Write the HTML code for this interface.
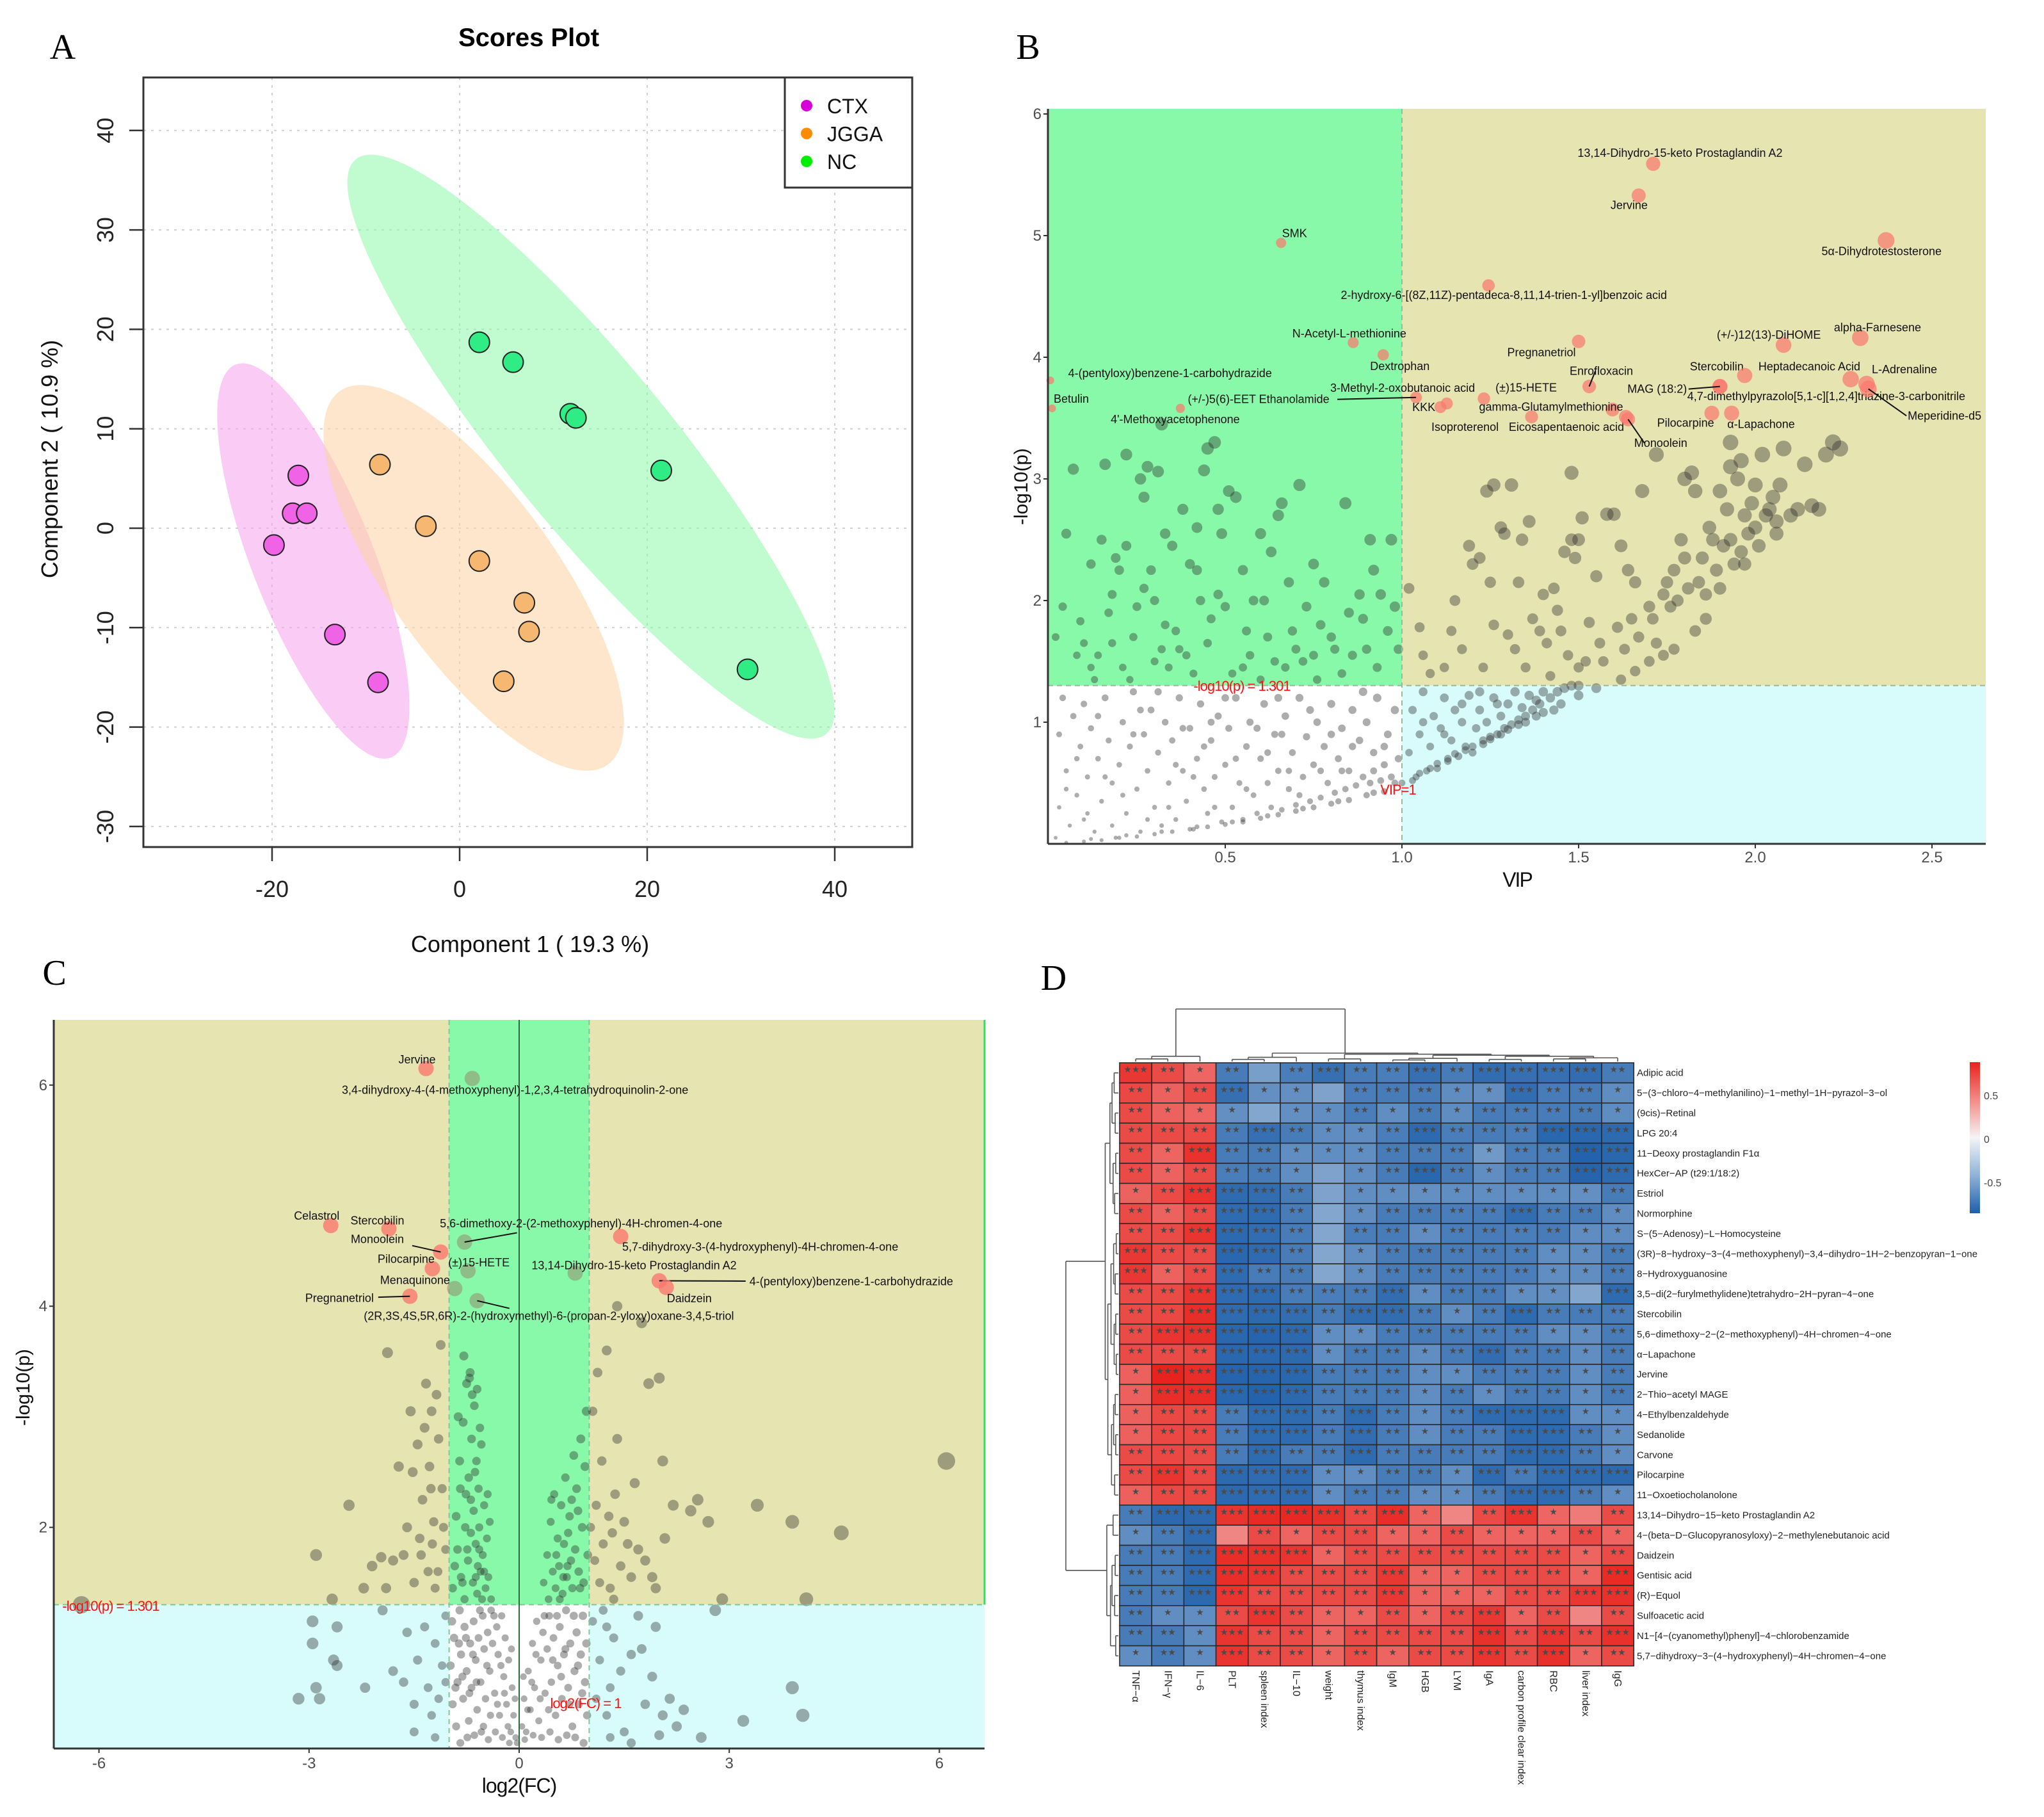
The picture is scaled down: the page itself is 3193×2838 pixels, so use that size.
<!DOCTYPE html>
<html><head><meta charset="utf-8">
<style>
html,body{margin:0;padding:0;background:#fff;}
svg{display:block;font-family:"Liberation Sans",sans-serif;}
</style></head>
<body>
<svg id="fig" xmlns="http://www.w3.org/2000/svg" width="3193" height="2838" viewBox="0 0 3193 2838">
<rect x="0" y="0" width="3193" height="2838" fill="#fff"/>
</svg>
<script>
// ---------- Panel A data ----------
const ctxX = [-17.2, -17.8, -16.3, -19.8, -13.3, -8.7];
const ctxY = [5.3, 1.5, 1.5, -1.7, -10.7, -15.5];
const jggaX = [-8.5, -3.6, 2.1, 6.9, 7.4, 4.7];
const jggaY = [6.4, 0.2, -3.3, -7.5, -10.4, -15.4];
const ncX = [2.1, 5.7, 11.8, 12.4, 21.5, 30.7];
const ncY = [18.7, 16.7, 11.5, 11.1, 5.8, -14.2];
const ellCenterX = [-15.6, 1.5, 14.0];
const ellCenterY = [-3.3, -5.0, 8.2];
const aXTicks = [-20, 0, 20, 40];
const aYTicks = [-30, -20, -10, 0, 10, 20, 30, 40];
// ---------- Panel B data ----------
const bGreenPts = [[0.02,1.7],[0.04,1.95],[0.05,2.55],[0.07,3.08],[0.09,1.83],[0.1,1.65],[0.12,1.45],[0.13,1.35],[0.15,2.5],[0.16,3.12],[0.17,1.9],[0.18,1.65],[0.19,2.35],[0.2,2.25],[0.21,1.45],[0.22,2.45],[0.23,1.35],[0.24,1.7],[0.25,1.95],[0.26,3.0],[0.27,2.85],[0.27,2.1],[0.28,3.1],[0.29,2.25],[0.3,1.5],[0.3,2.0],[0.31,3.06],[0.32,1.6],[0.33,2.55],[0.33,1.8],[0.34,1.45],[0.36,1.75],[0.37,1.6],[0.38,2.75],[0.39,1.55],[0.4,2.3],[0.41,1.4],[0.42,2.25],[0.43,2.0],[0.44,3.07],[0.45,1.65],[0.46,1.85],[0.47,3.3],[0.48,2.05],[0.48,2.75],[0.49,2.55],[0.5,1.95],[0.51,2.9],[0.52,1.4],[0.53,2.85],[0.55,2.25],[0.56,1.75],[0.57,1.55],[0.58,2.0],[0.6,1.35],[0.61,2.0],[0.62,1.7],[0.63,2.4],[0.64,1.5],[0.65,2.7],[0.66,2.8],[0.67,1.45],[0.68,2.15],[0.69,1.75],[0.7,1.6],[0.71,2.95],[0.72,1.5],[0.73,1.95],[0.75,1.55],[0.76,1.35],[0.77,1.8],[0.78,2.15],[0.8,1.7],[0.81,1.6],[0.83,1.4],[0.84,2.8],[0.85,1.9],[0.86,1.55],[0.88,2.05],[0.89,1.85],[0.9,1.6],[0.91,2.5],[0.92,2.25],[0.93,1.45],[0.94,2.05],[0.96,1.75],[0.97,2.5],[0.98,1.95],[0.99,1.6],[0.35,2.45],[0.12,2.3],[0.14,1.55],[0.22,3.2],[0.42,2.6],[0.6,2.55],[0.75,2.3],[0.55,1.45],[0.18,2.05],[0.08,1.55],[0.45,3.25],[0.32,3.45]];
const bKhakiPts = [[1.02,2.1],[1.05,1.78],[1.06,1.55],[1.08,1.4],[1.12,1.45],[1.14,1.75],[1.15,2.0],[1.17,1.6],[1.19,2.45],[1.2,2.3],[1.22,2.35],[1.23,1.45],[1.24,2.9],[1.25,2.15],[1.26,1.8],[1.28,2.6],[1.29,2.55],[1.3,1.72],[1.31,2.95],[1.32,1.6],[1.33,2.15],[1.34,2.5],[1.35,1.45],[1.36,2.65],[1.37,1.85],[1.39,1.75],[1.4,2.05],[1.41,1.65],[1.42,1.38],[1.43,2.1],[1.44,1.92],[1.45,1.75],[1.46,2.4],[1.47,1.55],[1.48,2.5],[1.48,3.05],[1.49,2.35],[1.5,2.5],[1.5,1.45],[1.51,2.68],[1.52,1.5],[1.53,1.82],[1.55,2.2],[1.56,1.65],[1.57,1.5],[1.58,2.71],[1.6,2.71],[1.61,1.78],[1.62,2.45],[1.63,1.6],[1.64,2.25],[1.65,1.85],[1.66,2.15],[1.67,1.7],[1.68,2.9],[1.7,1.95],[1.71,1.85],[1.72,1.65],[1.72,3.2],[1.74,2.05],[1.75,2.15],[1.76,1.95],[1.77,2.25],[1.78,2.0],[1.79,2.5],[1.8,2.35],[1.8,3.0],[1.81,2.1],[1.82,3.05],[1.83,2.9],[1.84,2.15],[1.85,2.35],[1.86,2.05],[1.87,2.6],[1.88,2.5],[1.89,2.25],[1.9,2.9],[1.91,2.45],[1.92,2.75],[1.93,3.1],[1.93,2.5],[1.94,2.3],[1.95,3.0],[1.96,2.4],[1.97,2.7],[1.98,2.55],[1.99,2.8],[2.0,2.95],[2.0,2.6],[2.01,2.45],[2.02,3.2],[2.03,2.7],[2.04,2.75],[2.05,2.85],[2.06,2.65],[2.07,2.95],[2.08,3.25],[2.1,2.7],[2.12,2.75],[2.14,3.12],[2.16,2.78],[2.18,2.75],[2.2,3.2],[2.22,3.3],[2.24,3.25],[1.93,3.3],[1.96,3.15],[2.06,2.55],[1.97,2.3],[1.9,2.1],[1.86,1.85],[1.83,1.75],[1.77,1.6],[1.74,1.55],[1.7,1.5],[1.66,1.42],[1.62,1.35],[1.26,2.95]];
const bLowLeftPts = [[0.02,0.05],[0.03,0.3],[0.03,0.9],[0.04,1.2],[0.05,0.6],[0.06,0.15],[0.07,1.05],[0.08,0.4],[0.09,0.8],[0.1,0.2],[0.1,1.15],[0.11,0.55],[0.12,0.95],[0.13,0.1],[0.14,0.7],[0.15,0.35],[0.16,1.2],[0.17,0.85],[0.18,0.5],[0.19,0.05],[0.2,0.65],[0.21,1.0],[0.22,0.25],[0.23,0.8],[0.24,1.25],[0.25,0.45],[0.26,0.1],[0.27,0.9],[0.28,0.6],[0.29,1.1],[0.3,0.3],[0.31,0.75],[0.32,0.15],[0.33,1.0],[0.34,0.5],[0.35,0.85],[0.36,0.2],[0.37,1.2],[0.38,0.6],[0.39,0.35],[0.4,0.95],[0.41,0.12],[0.42,0.7],[0.43,1.15],[0.44,0.45],[0.45,0.25],[0.46,0.85],[0.47,0.55],[0.48,1.05],[0.49,0.18],[0.5,0.65],[0.51,0.95],[0.52,0.3],[0.53,1.2],[0.54,0.5],[0.55,0.2],[0.56,0.8],[0.57,1.0],[0.58,0.4],[0.59,0.25],[0.6,0.7],[0.61,1.15],[0.62,0.5],[0.63,0.3],[0.64,0.9],[0.65,0.6],[0.66,0.28],[0.67,1.05],[0.68,0.45],[0.69,0.75],[0.7,0.32],[0.71,1.2],[0.72,0.55],[0.73,0.88],[0.74,0.35],[0.75,0.65],[0.76,1.0],[0.77,0.38],[0.78,0.8],[0.79,0.5],[0.8,1.15],[0.81,0.42],[0.82,0.7],[0.83,0.95],[0.84,0.45],[0.85,0.6],[0.86,1.1],[0.87,0.48],[0.88,0.85],[0.89,0.55],[0.9,1.0],[0.91,0.5],[0.92,0.75],[0.93,1.2],[0.94,0.52],[0.95,0.65],[0.96,0.9],[0.97,0.55],[0.98,1.1],[0.99,0.7],[0.05,0.01],[0.1,0.02],[0.15,0.03],[0.2,0.05],[0.25,0.06],[0.3,0.08],[0.35,0.1],[0.4,0.12],[0.45,0.14],[0.5,0.16],[0.55,0.18],[0.6,0.21],[0.65,0.24],[0.7,0.27],[0.75,0.3],[0.8,0.33],[0.85,0.36],[0.9,0.4],[0.95,0.43],[0.12,0.04],[0.22,0.07],[0.32,0.1],[0.42,0.14],[0.52,0.18],[0.62,0.23],[0.72,0.29],[0.82,0.35],[0.92,0.42],[0.05,0.45],[0.08,0.7],[0.11,0.25],[0.14,1.05],[0.18,0.15],[0.21,0.4],[0.24,0.9],[0.28,0.2],[0.31,1.25],[0.34,0.3],[0.38,0.95],[0.41,0.55],[0.44,0.8],[0.47,0.3],[0.5,1.2],[0.53,0.7],[0.56,0.45],[0.59,0.95],[0.62,0.75],[0.65,1.2],[0.68,0.6],[0.71,0.4],[0.74,1.1],[0.77,0.6],[0.8,0.9],[0.83,0.6],[0.86,0.8],[0.89,1.25],[0.92,0.6],[0.95,0.8],[0.98,0.5],[0.66,0.9],[0.36,0.65],[0.16,0.55],[0.26,1.1],[0.46,1.0]];
const bLowRightPts = [[1.0,0.5],[1.02,0.75],[1.03,1.1],[1.04,0.55],[1.05,0.9],[1.06,1.25],[1.07,0.6],[1.08,0.8],[1.09,1.05],[1.1,0.62],[1.11,0.95],[1.12,1.2],[1.13,0.68],[1.14,0.85],[1.15,1.1],[1.16,0.72],[1.17,1.0],[1.18,0.8],[1.19,1.22],[1.2,0.75],[1.21,0.95],[1.22,1.1],[1.23,0.82],[1.24,1.0],[1.25,0.88],[1.26,1.2],[1.27,0.9],[1.28,1.05],[1.29,0.95],[1.3,1.15],[1.31,0.98],[1.32,1.25],[1.33,1.02],[1.34,1.12],[1.35,1.05],[1.36,1.22],[1.37,1.1],[1.38,1.18],[1.39,1.15],[1.4,1.25],[1.42,1.2],[1.44,1.25],[1.46,1.28],[1.48,1.3],[1.5,1.3],[1.05,0.58],[1.1,0.66],[1.15,0.74],[1.2,0.8],[1.25,0.86],[1.3,0.94],[1.35,1.0],[1.4,1.08],[1.45,1.15],[1.5,1.22],[1.55,1.28],[1.03,0.52],[1.08,0.62],[1.13,0.7],[1.18,0.77],[1.23,0.85],[1.28,0.9],[1.33,0.98],[1.38,1.05],[1.43,1.1],[1.06,1.0],[1.12,0.9],[1.17,1.15],[1.22,1.25],[1.27,1.15]];
const bHlNames = ["13,14-Dihydro-15-keto Prostaglandin A2","Jervine","5α-Dihydrotestosterone","SMK","2-hydroxy-6-[(8Z,11Z)-pentadeca-8,11,14-trien-1-yl]benzoic acid","N-Acetyl-L-methionine","Dextrophan","Pregnanetriol","(+/-)12(13)-DiHOME","alpha-Farnesene","4-(pentyloxy)benzene-1-carbohydrazide","Betulin","4'-Methoxyacetophenone","(+/-)5(6)-EET Ethanolamide","3-Methyl-2-oxobutanoic acid","(±)15-HETE","KKK","gamma-Glutamylmethionine","Isoproterenol","Eicosapentaenoic acid","Enrofloxacin","Monoolein","Stercobilin","Heptadecanoic Acid","L-Adrenaline","MAG (18:2)","4,7-dimethylpyrazolo[5,1-c][1,2,4]triazine-3-carbonitrile","Meperidine-d5","Pilocarpine","α-Lapachone"];
const bHlVip = [1.711,1.67,2.37,0.658,1.245,0.862,0.947,1.50,2.08,2.297,0.005,0.01,0.373,1.04,1.127,1.232,1.109,1.596,1.367,1.634,1.53,1.64,1.90,1.97,2.27,1.90,2.315,2.32,1.877,1.933];
const bHlP = [5.59,5.33,4.96,4.94,4.59,4.12,4.02,4.13,4.10,4.16,3.81,3.58,3.58,3.67,3.62,3.66,3.59,3.57,3.51,3.51,3.76,3.49,3.76,3.85,3.82,3.76,3.78,3.74,3.54,3.54];
const bLabelOffsets = [[42,-11],[-15,21],[-7,23],[21,-9],[24,21],[-6,-8],[26,24],[-58,23],[-23,-10],[27,-10],[187,-5],[30,-9],[-8,23],[-246,9],[-69,-18],[66,-11],[-26,6],[-96,2],[-104,22],[-93,22],[19,-18],[51,43],[-5,-25],[101,-8],[84,-9],[-98,10],[-63,25],[119,48],[-41,21],[46,23]];
const bLeaderLines = [13,21,27,25,20];
const bXTicks = [0.5,1.0,1.5,2.0,2.5];
const bYTicks = [1,2,3,4,5,6];
// ---------- Panel C data ----------
const cPts = [[-0.95,1.45],[-0.9,2.1],[-0.88,1.8],[-0.85,2.6],[-0.83,1.55],[-0.8,2.95],[-0.78,1.35],[-0.76,2.3],[-0.75,3.3],[-0.73,1.7],[-0.72,2.45],[-0.7,3.4],[-0.69,1.95],[-0.68,2.8],[-0.66,1.5],[-0.65,2.15],[-0.64,3.1],[-0.62,1.85],[-0.61,2.6],[-0.6,1.4],[-0.58,2.35],[-0.57,2.0],[-0.55,1.6],[-0.54,2.75],[-0.52,1.75],[-0.5,2.2],[-0.48,1.45],[-0.46,1.9],[-0.44,1.55],[-0.42,2.05],[-0.4,1.35],[-0.71,3.35],[-0.67,3.2],[-0.84,2.35],[-0.59,1.65],[-0.53,1.35],[-0.77,2.0],[-0.63,2.5],[-0.56,2.9],[-0.92,1.65],[-0.87,3.0],[-0.81,1.5],[-0.74,1.8],[-0.69,2.25],[-0.62,1.55],[-0.57,1.8],[-0.5,1.6],[-0.45,2.3],[-0.6,3.25],[-0.79,3.55],
[0.35,1.5],[0.4,1.75],[0.42,1.35],[0.45,2.05],[0.48,1.6],[0.5,2.3],[0.52,1.45],[0.55,1.9],[0.57,1.65],[0.6,2.2],[0.62,1.4],[0.64,1.85],[0.66,2.45],[0.68,1.55],[0.7,1.95],[0.72,2.1],[0.74,1.7],[0.76,1.45],[0.78,2.65],[0.8,1.8],[0.82,2.35],[0.85,1.6],[0.88,2.8],[0.9,2.0],[0.92,1.5],[0.94,2.55],[0.96,3.05],[0.98,1.75],[0.46,2.25],[0.58,1.35],[0.69,1.65],[0.84,2.15],[0.53,1.75],[0.63,1.55],[0.75,2.25],[0.87,1.45],
[-1.05,1.8],[-1.1,2.35],[-1.12,3.65],[-1.15,2.8],[-1.18,3.2],[-1.2,1.45],[-1.22,2.05],[-1.25,3.05],[-1.28,2.55],[-1.3,1.6],[-1.33,3.3],[-1.35,2.9],[-1.38,2.25],[-1.4,1.75],[-1.45,2.75],[-1.5,1.5],[-1.55,3.05],[-1.6,2.0],[-1.65,1.75],[-1.72,2.55],[-1.8,1.7],[-1.88,3.58],[-1.9,1.45],[-1.97,1.73],[-2.1,1.65],[-2.22,1.45],[-2.43,2.2],[-2.67,1.35],[-2.9,1.75],[-1.08,2.0],[-1.16,1.6],[-1.26,2.35],[-1.42,1.9],[-1.52,2.5],[-1.24,1.85],
[1.02,2.0],[1.05,3.05],[1.08,1.7],[1.1,2.2],[1.12,3.4],[1.15,1.5],[1.18,2.6],[1.2,1.85],[1.25,3.6],[1.28,2.1],[1.3,1.45],[1.33,1.95],[1.37,2.3],[1.4,2.8],[1.45,1.65],[1.5,2.05],[1.55,1.85],[1.6,1.55],[1.65,2.4],[1.7,1.8],[1.75,3.85],[1.8,1.7],[1.85,3.3],[1.9,1.55],[2.0,3.35],[2.05,2.6],[2.08,1.9],[2.2,2.2],[2.45,2.15],[2.55,2.25],[2.7,2.05],[2.9,1.35],[3.4,2.2],[3.9,2.05],[4.6,1.95],[6.1,2.6],[1.4,4.0],[1.35,1.35],[1.95,1.45],
[-0.05,0.1],[-0.08,0.3],[-0.1,0.55],[-0.12,0.15],[-0.15,0.8],[-0.18,0.4],[-0.2,1.0],[-0.22,0.65],[-0.25,1.2],[-0.28,0.3],[-0.3,0.85],[-0.32,1.1],[-0.35,0.5],[-0.38,0.95],[-0.4,1.25],[-0.42,0.7],[-0.45,1.05],[-0.48,0.45],[-0.5,0.9],[-0.52,1.2],[-0.55,0.6],[-0.58,1.0],[-0.6,0.35],[-0.62,0.8],[-0.65,1.15],[-0.68,0.55],[-0.7,0.95],[-0.72,0.25],[-0.75,0.7],[-0.78,1.1],[-0.8,0.45],[-0.83,0.85],[-0.85,1.25],[-0.88,0.6],[-0.9,0.2],[-0.93,1.0],[-0.95,0.4],[-0.98,0.75],[-0.06,0.45],[-0.11,0.9],[-0.16,0.2],[-0.21,0.5],[-0.26,0.75],[-0.31,0.4],[-0.36,1.2],[-0.41,0.3],[-0.46,0.75],[-0.51,0.2],[-0.56,1.25],[-0.61,0.6],[-0.66,0.85],[-0.71,0.5],[-0.76,1.0],[-0.81,0.65],[-0.86,0.95],[-0.91,0.55],[-0.96,1.15],[-0.03,0.05],[-0.14,0.05],[-0.24,0.1],[-0.34,0.15],[-0.44,0.08],[-0.54,0.15],[-0.64,0.12],[-0.74,0.1],[-0.84,0.05],
[0.04,0.2],[0.07,0.45],[0.1,0.15],[0.13,0.7],[0.16,0.35],[0.19,0.95],[0.22,0.55],[0.25,1.15],[0.28,0.25],[0.31,0.8],[0.34,1.05],[0.37,0.5],[0.4,0.9],[0.43,1.2],[0.46,0.6],[0.49,1.0],[0.52,0.3],[0.55,0.75],[0.58,1.1],[0.61,0.45],[0.64,0.85],[0.67,1.25],[0.7,0.55],[0.73,0.95],[0.76,0.2],[0.79,0.7],[0.82,1.05],[0.85,0.4],[0.88,0.85],[0.91,1.2],[0.94,0.6],[0.97,0.3],[0.06,0.65],[0.12,0.35],[0.18,0.6],[0.24,0.85],[0.3,0.45],[0.36,1.2],[0.42,0.35],[0.48,0.8],[0.54,1.2],[0.6,0.65],[0.66,0.9],[0.72,0.4],[0.78,1.2],[0.84,0.75],[0.9,0.5],[0.96,0.95],[0.08,0.08],[0.2,0.12],[0.32,0.1],[0.44,0.15],[0.56,0.08],[0.68,0.12],[0.8,0.1],[0.92,0.05],
[-6.25,1.3],[-3.15,0.45],[-2.95,0.95],[-2.95,1.15],[-2.9,0.55],[-2.85,0.45],[-2.65,0.8],[-2.6,0.75],[-2.6,1.1],[-2.2,0.55],[-1.95,1.25],[-1.8,0.7],[-1.65,0.6],[-1.6,1.05],[-1.5,0.4],[-1.45,0.8],[-1.35,1.1],[-1.3,0.55],[-1.25,0.3],[-1.2,0.95],[-1.15,0.45],[-1.1,0.75],[-1.05,1.2],[-1.05,0.6],[-1.5,0.15],[-1.2,0.1],[1.05,1.15],[1.1,0.45],[1.15,0.8],[1.2,1.25],[1.25,0.3],[1.3,0.55],[1.35,1.0],[1.45,0.7],[1.5,0.15],[1.6,0.85],[1.7,1.2],[1.8,0.4],[1.9,0.65],[1.95,1.1],[2.05,0.3],[2.15,0.45],[2.25,0.2],[2.35,0.35],[2.6,0.1],[2.8,1.25],[3.2,0.25],[3.9,0.55],[4.05,0.3],[4.1,1.35],[1.3,0.1],[1.6,0.05],[2.0,0.12],[1.75,0.9],[1.25,1.1]];
const cHlNames = ["Jervine","3,4-dihydroxy-4-(4-methoxyphenyl)-1,2,3,4-tetrahydroquinolin-2-one","Celastrol","Stercobilin","5,6-dimethoxy-2-(2-methoxyphenyl)-4H-chromen-4-one","5,7-dihydroxy-3-(4-hydroxyphenyl)-4H-chromen-4-one","Monoolein","Pilocarpine","(±)15-HETE","13,14-Dihydro-15-keto Prostaglandin A2","Menaquinone","4-(pentyloxy)benzene-1-carbohydrazide","Daidzein","Pregnanetriol","(2R,3S,4S,5R,6R)-2-(hydroxymethyl)-6-(propan-2-yloxy)oxane-3,4,5-triol"];
const cHlFC = [-1.33,-0.67,-2.69,-1.86,-0.78,1.45,-1.12,-1.24,-0.73,0.80,-0.92,2.0,2.10,-1.56,-0.60];
const cHlP = [6.15,6.06,4.73,4.70,4.58,4.63,4.49,4.34,4.32,4.30,4.16,4.23,4.17,4.09,4.05];
const cHlPink = [1,0,1,1,0,1,1,1,0,0,0,1,1,1,0];
const cLabelOffsets = [[-14,-8],[67,24],[-22,-9],[-18,-7],[182,-23],[218,22],[-99,-14],[-41,-9],[17,-7],[92,-6],[-62,-7],[300,7],[36,23],[-110,9],[112,30]];
const cLeaderLines = [4,6,11,13,14];
const cXTicks = [-6,-3,0,3,6];
const cYTicks = [2,4,6];
// ---------- Panel D data ----------
const dCols = ["TNF−α","IFN−γ","IL−6","PLT","spleen index","IL−10","weight","thymus index","IgM","HGB","LYM","IgA","carbon profile clear index","RBC","liver index","IgG"];
const dRows = ["Adipic acid","5−(3−chloro−4−methylanilino)−1−methyl−1H−pyrazol−3−ol","(9cis)−Retinal","LPG 20:4","11−Deoxy prostaglandin F1α","HexCer−AP (t29:1/18:2)","Estriol","Normorphine","S−(5−Adenosy)−L−Homocysteine","(3R)−8−hydroxy−3−(4−methoxyphenyl)−3,4−dihydro−1H−2−benzopyran−1−one","8−Hydroxyguanosine","3,5−di(2−furylmethylidene)tetrahydro−2H−pyran−4−one","Stercobilin","5,6−dimethoxy−2−(2−methoxyphenyl)−4H−chromen−4−one","α−Lapachone","Jervine","2−Thio−acetyl MAGE","4−Ethylbenzaldehyde","Sedanolide","Carvone","Pilocarpine","11−Oxoetiocholanolone","13,14−Dihydro−15−keto Prostaglandin A2","4−(beta−D−Glucopyranosyloxy)−2−methylenebutanoic acid","Daidzein","Gentisic acid","(R)−Equol","Sulfoacetic acid","N1−[4−(cyanomethyl)phenyl]−4−chlorobenzamide","5,7−dihydroxy−3−(4−hydroxyphenyl)−4H−chromen−4−one"];
const dValues = [
[.72,.6,.45,-.6,-.35,-.58,-.7,-.6,-.58,-.7,-.6,-.72,-.7,-.7,-.72,-.6],
[.62,.48,.6,-.7,-.45,-.45,-.32,-.58,-.6,-.6,-.47,-.45,-.72,-.6,-.6,-.47],
[.6,.47,.45,-.45,-.3,-.45,-.46,-.58,-.46,-.6,-.47,-.6,-.6,-.6,-.6,-.47],
[.6,.6,.6,-.6,-.7,-.6,-.47,-.47,-.58,-.75,-.58,-.6,-.58,-.78,-.78,-.75],
[.6,.46,.75,-.6,-.6,-.46,-.46,-.46,-.6,-.6,-.58,-.38,-.58,-.6,-.82,-.78],
[.6,.47,.6,-.58,-.6,-.46,-.32,-.46,-.6,-.78,-.6,-.46,-.58,-.6,-.8,-.75],
[.47,.6,.74,-.74,-.72,-.6,-.32,-.46,-.46,-.45,-.46,-.46,-.46,-.46,-.45,-.6],
[.6,.47,.6,-.74,-.74,-.6,-.3,-.46,-.6,-.6,-.58,-.6,-.72,-.6,-.6,-.47],
[.6,.6,.74,-.76,-.72,-.6,-.3,-.58,-.6,-.46,-.58,-.6,-.58,-.6,-.47,-.47],
[.72,.6,.6,-.78,-.74,-.6,-.3,-.46,-.6,-.6,-.6,-.6,-.58,-.46,-.46,-.6],
[.72,.47,.6,-.74,-.6,-.6,-.3,-.46,-.6,-.6,-.6,-.6,-.58,-.46,-.46,-.6],
[.6,.6,.74,-.74,-.74,-.6,-.58,-.6,-.72,-.46,-.6,-.6,-.46,-.45,-.3,-.74],
[.6,.62,.78,-.74,-.76,-.72,-.6,-.72,-.72,-.6,-.46,-.6,-.74,-.6,-.6,-.6],
[.6,.74,.76,-.78,-.8,-.76,-.46,-.46,-.6,-.6,-.6,-.6,-.6,-.46,-.46,-.6],
[.6,.6,.62,-.78,-.78,-.76,-.46,-.6,-.6,-.46,-.6,-.72,-.6,-.6,-.46,-.6],
[.48,.85,.78,-.8,-.8,-.78,-.6,-.6,-.6,-.46,-.46,-.6,-.6,-.6,-.46,-.6],
[.48,.78,.78,-.78,-.82,-.76,-.6,-.6,-.6,-.46,-.6,-.46,-.6,-.6,-.46,-.6],
[.48,.62,.62,-.6,-.74,-.74,-.6,-.74,-.6,-.46,-.6,-.74,-.74,-.74,-.46,-.46],
[.48,.62,.62,-.6,-.74,-.74,-.6,-.72,-.6,-.46,-.6,-.6,-.74,-.74,-.6,-.46],
[.6,.62,.6,-.6,-.74,-.6,-.6,-.74,-.6,-.6,-.6,-.6,-.74,-.74,-.6,-.46],
[.6,.74,.62,-.76,-.74,-.74,-.46,-.46,-.6,-.6,-.46,-.74,-.6,-.74,-.74,-.76],
[.48,.62,.62,-.76,-.74,-.74,-.46,-.6,-.6,-.46,-.46,-.6,-.74,-.74,-.6,-.46],
[-.6,-.76,-.76,.74,.8,.82,.76,.62,.78,.46,.3,.6,.74,.45,.35,.6],
[-.46,-.6,-.74,.3,.6,.46,.6,.6,.46,.46,.6,.46,.46,.46,.6,.46],
[-.6,-.6,-.74,.78,.76,.74,.46,.6,.6,.6,.6,.6,.6,.6,.46,.6],
[-.6,-.6,-.74,.78,.74,.6,.6,.6,.72,.46,.46,.6,.6,.6,.46,.8],
[-.6,-.6,-.76,.74,.6,.6,.6,.6,.72,.46,.46,.46,.6,.6,.72,.76],
[-.6,-.46,-.46,.6,.74,.6,.46,.46,.6,.46,.6,.72,.46,.6,.3,.6],
[-.6,-.6,-.46,.74,.6,.6,.46,.6,.6,.6,.6,.76,.6,.74,.6,.76],
[-.46,-.6,-.46,.74,.6,.6,.46,.6,.46,.6,.6,.74,.6,.76,.46,.6]];
const dStars = [
[3,2,1,2,0,2,3,2,2,3,2,3,3,3,3,2],[2,1,2,3,1,1,0,2,2,2,1,1,3,2,2,1],[2,1,1,1,0,1,1,2,1,2,1,2,2,2,2,1],[2,2,2,2,3,2,1,1,2,3,2,2,2,3,3,3],[2,1,3,2,2,1,1,1,2,2,2,1,2,2,3,3],[2,1,2,2,2,1,0,1,2,3,2,1,2,2,3,3],[1,2,3,3,3,2,0,1,1,1,1,1,1,1,1,2],[2,1,2,3,3,2,0,1,2,2,2,2,3,2,2,1],[2,2,3,3,3,2,0,2,2,1,2,2,2,2,1,1],[3,2,2,3,3,2,0,1,2,2,2,2,2,1,1,2],[3,1,2,3,2,2,0,1,2,2,2,2,2,1,1,2],[2,2,3,3,3,2,2,2,3,1,2,2,1,1,0,3],[2,2,3,3,3,3,2,3,3,2,1,2,3,2,2,2],[2,3,3,3,3,3,1,1,2,2,2,2,2,1,1,2],[2,2,2,3,3,3,1,2,2,1,2,3,2,2,1,2],[1,3,3,3,3,3,2,2,2,1,1,2,2,2,1,2],[1,3,3,3,3,3,2,2,2,1,2,1,2,2,1,2],[1,2,2,2,3,3,2,3,2,1,2,3,3,3,1,1],[1,2,2,2,3,3,2,3,2,1,2,2,3,3,2,1],[2,2,2,2,3,2,2,3,2,2,2,2,3,3,2,1],[2,3,2,3,3,3,1,1,2,2,1,3,2,3,3,3],[1,2,2,3,3,3,1,2,2,1,1,2,3,3,2,1],[2,3,3,3,3,3,3,2,3,1,0,2,3,1,0,2],[1,2,3,0,2,1,2,2,1,1,2,1,1,1,2,1],[2,2,3,3,3,3,1,2,2,2,2,2,2,2,1,2],[2,2,3,3,3,2,2,2,3,1,1,2,2,2,1,3],[2,2,3,3,2,2,2,2,3,1,1,1,2,2,3,3],[2,1,1,2,3,2,1,1,2,1,2,3,1,2,0,2],[2,2,1,3,2,2,1,2,2,2,2,3,2,3,2,3],[1,2,1,3,2,2,1,2,1,2,2,3,2,3,1,2]];
const dColMerges = [[0,1,.05],[16,2,.1],[3,4,.04],[18,5,.08],[6,7,.05],[8,9,.03],[21,10,.06],[11,12,.04],[13,14,.05],[24,15,.07],[23,25,.1],[22,26,.12],[20,27,.14],[19,28,.16],[17,29,1.0]];
const dRowMerges = [[0,1,.08],[2,3,.06],[4,5,.05],[6,7,.07],[8,9,.04],[10,11,.06],[12,13,.05],[14,15,.04],[16,17,.06],[18,19,.05],[20,21,.07],[30,31,.12],[32,33,.1],[34,35,.09],[36,37,.08],[38,39,.09],[41,42,.16],[43,44,.14],[45,40,.13],[47,48,.2],[46,49,.25],[22,23,.1],[24,25,.06],[26,27,.07],[28,29,.05],[52,53,.12],[54,55,.15],[51,56,.22],[50,57,1.0]];
const dLegendTicks = [0.5, 0, -0.5];

// ---------- helpers ----------
const NS = 'http://www.w3.org/2000/svg';
const svg = document.getElementById('fig');
function el(tag, parent, attrs) {
  const e = document.createElementNS(NS, tag);
  for (const k in attrs) e.setAttribute(k, attrs[k]);
  parent.appendChild(e);
  return e;
}
function grp(parent, name) {
  const g = document.createElementNS(NS, 'g');
  
  
  parent.appendChild(g);
  return g;
}
function tx(parent, x, y, s, size, extra) {
  const t = el('text', parent, Object.assign({x: x, y: y, 'font-size': size}, extra || {}));
  t.textContent = s;
  return t;
}

// ================= PANEL A =================
const gA = grp(svg, 'panel-a-scores-plot');
const xA = v => 718 + v * 14.65;
const yA = v => 825 - v * 15.53;
const aL = 224, aR = 1425, aT = 121, aB = 1323;
let t;
t = tx(gA, 98, 92, 'A', 56, {'font-family': '"Liberation Serif",serif', 'text-anchor': 'middle'});


t = tx(gA, 826, 72, 'Scores Plot', 40, {'font-weight': 'bold', 'text-anchor': 'middle'});


aXTicks.forEach(v => {
  const l = el('line', gA, {x1: xA(v), x2: xA(v), y1: aT, y2: aB, stroke: '#d0d0d0', 'stroke-width': 2, 'stroke-dasharray': '4,8'});
  
  
  const k = el('line', gA, {x1: xA(v), x2: xA(v), y1: aB, y2: aB + 22, stroke: '#333', 'stroke-width': 2.5});
  
  
  const lb = tx(gA, xA(v), 1401, String(v), 36, {'text-anchor': 'middle', fill: '#222'});
  
  
});
aYTicks.forEach(v => {
  const l = el('line', gA, {x1: aL, x2: aR, y1: yA(v), y2: yA(v), stroke: '#d0d0d0', 'stroke-width': 2, 'stroke-dasharray': '4,8'});
  
  
  const k = el('line', gA, {x1: aL - 22, x2: aL, y1: yA(v), y2: yA(v), stroke: '#333', 'stroke-width': 2.5});
  
  
  const lb = tx(gA, 177, yA(v), String(v), 36, {'text-anchor': 'middle', fill: '#222', transform: `rotate(-90 177 ${yA(v)})`});
  
  
});
const ellFill = ['rgba(246,160,236,0.55)', 'rgba(252,214,168,0.6)', 'rgba(140,250,170,0.55)'];
const ellAxes = [[95, 330, -21.6], [130, 359, -35.7], [128, 580, -39.3]];
const ellNames = ['ctx-ellipse', 'jgga-ellipse', 'nc-ellipse'];
ellCenterX.forEach((cx, i) => {
  const e = el('ellipse', gA, {cx: xA(cx), cy: yA(ellCenterY[i]), rx: ellAxes[i][0], ry: ellAxes[i][1], fill: ellFill[i], transform: `rotate(${ellAxes[i][2]} ${xA(cx)} ${yA(ellCenterY[i])})`});
  
  
});
const groupsA = [[ctxX, ctxY, '#f062e6', 'ctx-point'], [jggaX, jggaY, '#f6b870', 'jgga-point'], [ncX, ncY, '#30ec84', 'nc-point']];
groupsA.forEach(g => {
  g[0].forEach((x, i) => {
    const c = el('circle', gA, {cx: xA(x), cy: yA(g[1][i]), r: 16, fill: g[2], stroke: '#222', 'stroke-width': 2});
    
    
  });
});
const boxA = el('rect', gA, {x: aL, y: aT, width: aR - aL, height: aB - aT, fill: 'none', stroke: '#333', 'stroke-width': 3});


const legA = el('rect', gA, {x: 1226, y: aT, width: 199, height: 172, fill: '#fff', stroke: '#333', 'stroke-width': 3});


const legNames = ['CTX', 'JGGA', 'NC'];
const legCols = ['#d800d8', '#ff8c00', '#00ee00'];
legNames.forEach((n, i) => {
  const c = el('circle', gA, {cx: 1260, cy: 165 + i * 43.5, r: 9, fill: legCols[i]});
  
  
  const lt = tx(gA, 1292, 177 + i * 43.5, n, 32, {fill: '#111'});
  
  
});
t = tx(gA, 828, 1487, 'Component 1 ( 19.3 %)', 36, {'text-anchor': 'middle', fill: '#111'});


t = tx(gA, 90, 717, 'Component 2 ( 10.9 %)', 36, {'text-anchor': 'middle', fill: '#111', transform: 'rotate(-90 90 717)'});



// ================= PANEL B =================
const gB = grp(svg, 'panel-b-vip-plot');
const xB = v => 1638 + v * 552;
const yB = v => 1318 - v * 190;
const bL = 1637, bR = 3102, bT = 170, bBot = 1318, bThr = yB(1.301);
t = tx(gB, 1606, 92, 'B', 56, {'font-family': '"Liberation Serif",serif', 'text-anchor': 'middle'});


let r;
r = el('rect', gB, {x: bL, y: bT, width: xB(1) - bL, height: bThr - bT, fill: '#88f9a9'});


r = el('rect', gB, {x: xB(1), y: bT, width: bR - xB(1), height: bThr - bT, fill: '#e6e4b0'});


r = el('rect', gB, {x: xB(1), y: bThr, width: bR - xB(1), height: bBot - bThr, fill: '#d8fcfc'});


const bAll = bGreenPts.concat(bKhakiPts, bLowLeftPts, bLowRightPts);
bAll.forEach(p => {
  const rad = Math.min(13, 2.8 + 1.9 * p[1] + 1.6 * p[0]);
  const c = el('circle', gB, {cx: xB(p[0]), cy: yB(p[1]), r: rad, fill: 'rgba(40,40,40,0.38)'});
  
  
});
let dl;
dl = el('line', gB, {x1: xB(1), x2: xB(1), y1: bT, y2: bBot, stroke: '#9ab89a', 'stroke-width': 2, 'stroke-dasharray': '8,6'});


dl = el('line', gB, {x1: bL, x2: bR, y1: bThr, y2: bThr, stroke: '#9ab89a', 'stroke-width': 2, 'stroke-dasharray': '8,6'});


bHlVip.forEach((v, i) => {
  const px = xB(v), py = yB(bHlP[i]);
  const c = el('circle', gB, {cx: px, cy: py, r: Math.min(15, 6 + 3 * v), fill: 'rgba(250,120,110,0.72)'});
  
  
  const o = bLabelOffsets[i];
  if (bLeaderLines.includes(i)) {
    const ln = el('line', gB, {x1: px, y1: py, x2: px + o[0] * 0.5, y2: py + o[1] - 6, stroke: '#111', 'stroke-width': 2});
    
    
  }
  const lt = tx(gB, px + o[0], py + o[1], bHlNames[i], 18, {'text-anchor': 'middle', fill: '#111'});
  
  
});
let ax;
ax = el('line', gB, {x1: bL, x2: bL, y1: bT, y2: bBot, stroke: '#333', 'stroke-width': 3});


ax = el('line', gB, {x1: bL, x2: bR, y1: bBot, y2: bBot, stroke: '#333', 'stroke-width': 3});


bXTicks.forEach(v => {
  const k = el('line', gB, {x1: xB(v), x2: xB(v), y1: bBot, y2: bBot + 7, stroke: '#333', 'stroke-width': 2});
  
  
  const lb = tx(gB, xB(v), 1347, v.toFixed(1), 24, {'text-anchor': 'middle', fill: '#4d4d4d'});
  
  
});
bYTicks.forEach(v => {
  const k = el('line', gB, {x1: bL - 7, x2: bL, y1: yB(v), y2: yB(v), stroke: '#333', 'stroke-width': 2});
  
  
  const lb = tx(gB, bL - 10, yB(v) + 8, String(v), 24, {'text-anchor': 'end', fill: '#4d4d4d'});
  
  
});
t = tx(gB, 2370, 1385, 'VIP', 32, {'text-anchor': 'middle', fill: '#111', 'letter-spacing': '-2'});


t = tx(gB, 1605, 760, '-log10(p)', 30, {'text-anchor': 'middle', fill: '#111', transform: 'rotate(-90 1605 760)'});


t = tx(gB, 1940, 1079, '-log10(p) = 1.301', 22, {'text-anchor': 'middle', fill: '#ff1010', 'letter-spacing': '-1'});


t = tx(gB, 2184, 1241, 'VIP=1', 22, {'text-anchor': 'middle', fill: '#ff1010', 'letter-spacing': '-1'});



// ================= PANEL C =================
const gC = grp(svg, 'panel-c-volcano-plot');
const xC = v => 811 + v * 109.4;
const yC = v => 2731 - v * 172.7;
const cL = 84, cR = 1538, cT = 1593, cB = 2731, cThr = yC(1.301);
t = tx(gC, 85, 1538, 'C', 56, {'font-family': '"Liberation Serif",serif', 'text-anchor': 'middle'});


r = el('rect', gC, {x: cL, y: cT, width: cR - cL, height: cThr - cT, fill: '#e6e4b0'});


r = el('rect', gC, {x: xC(-1), y: cT, width: xC(1) - xC(-1), height: cThr - cT, fill: '#88f9a9'});


r = el('rect', gC, {x: cL, y: cThr, width: cR - cL, height: cB - cThr, fill: '#d8fcfc'});


r = el('rect', gC, {x: xC(-1), y: cThr, width: xC(1) - xC(-1), height: cB - cThr, fill: '#fff'});


cPts.forEach(p => {
  const rad = Math.min(14, 5 + 1.3 * Math.abs(p[0]) + 0.3 * p[1]);
  const c = el('circle', gC, {cx: xC(p[0]), cy: yC(p[1]), r: rad, fill: 'rgba(40,40,40,0.38)'});
  
  
});
[-1, 1].forEach(v => {
  const l = el('line', gC, {x1: xC(v), x2: xC(v), y1: cT, y2: cB, stroke: '#7fc89a', 'stroke-width': 2, 'stroke-dasharray': '8,6'});
  
  
});
dl = el('line', gC, {x1: cL, x2: cR, y1: cThr, y2: cThr, stroke: '#7fc89a', 'stroke-width': 2, 'stroke-dasharray': '8,6'});


dl = el('line', gC, {x1: xC(0), x2: xC(0), y1: cT, y2: cB, stroke: '#2d6a40', 'stroke-width': 2});


dl = el('line', gC, {x1: cR, x2: cR, y1: cT, y2: cThr, stroke: '#33dd66', 'stroke-width': 3});


cHlFC.forEach((v, i) => {
  const px = xC(v), py = yC(cHlP[i]);
  const c = el('circle', gC, {cx: px, cy: py, r: 12, fill: cHlPink[i] ? 'rgba(250,120,110,0.8)' : 'rgba(150,140,110,0.55)'});
  
  
  const o = cLabelOffsets[i];
  if (cLeaderLines.includes(i)) {
    const ln = el('line', gC, {x1: px, y1: py, x2: px + o[0] * 0.45, y2: py + o[1] * 0.5 - 3, stroke: '#111', 'stroke-width': 2});
    
    
  }
  const lt = tx(gC, px + o[0], py + o[1], cHlNames[i], 18, {'text-anchor': 'middle', fill: '#111'});
  
  
});
ax = el('line', gC, {x1: cL, x2: cL, y1: cT, y2: cB, stroke: '#333', 'stroke-width': 3});


ax = el('line', gC, {x1: cL, x2: cR, y1: cB, y2: cB, stroke: '#333', 'stroke-width': 3});


cXTicks.forEach(v => {
  const k = el('line', gC, {x1: xC(v), x2: xC(v), y1: cB, y2: cB + 7, stroke: '#333', 'stroke-width': 2});
  
  
  const lb = tx(gC, xC(v), 2762, String(v), 24, {'text-anchor': 'middle', fill: '#4d4d4d'});
  
  
});
cYTicks.forEach(v => {
  const k = el('line', gC, {x1: cL - 7, x2: cL, y1: yC(v), y2: yC(v), stroke: '#333', 'stroke-width': 2});
  
  
  const lb = tx(gC, cL - 10, yC(v) + 8, String(v), 24, {'text-anchor': 'end', fill: '#4d4d4d'});
  
  
});
t = tx(gC, 811, 2800, 'log2(FC)', 32, {'text-anchor': 'middle', fill: '#111', 'letter-spacing': '-1'});


t = tx(gC, 46, 2167, '-log10(p)', 30, {'text-anchor': 'middle', fill: '#111', transform: 'rotate(-90 46 2167)'});


t = tx(gC, 173, 2516, '-log10(p) = 1.301', 22, {'text-anchor': 'middle', fill: '#ff1010', 'letter-spacing': '-1'});


t = tx(gC, 915, 2668, 'log2(FC) = 1', 22, {'text-anchor': 'middle', fill: '#ff1010', 'letter-spacing': '-1'});



// ================= PANEL D =================
const gD = grp(svg, 'panel-d-correlation-heatmap');
const hL = 1749, hT = 1660, cw = 50.2, rh = 31.4;
t = tx(gD, 1646, 1546, 'D', 56, {'font-family': '"Liberation Serif",serif', 'text-anchor': 'middle'});


function heatColor(v) {
  const tt = Math.pow(Math.min(1, Math.abs(v) / 0.85), 0.6);
  const end = v >= 0 ? [232, 35, 30] : [30, 95, 170];
  const c = [0, 1, 2].map(k => Math.round(247 + (end[k] - 247) * tt));
  return `rgb(${c[0]},${c[1]},${c[2]})`;
}
dValues.forEach((row, i) => {
  row.forEach((v, j) => {
    const cell = el('rect', gD, {x: hL + j * cw, y: hT + i * rh, width: cw, height: rh, fill: heatColor(v), stroke: '#2a2a2a', 'stroke-width': 1.6});
    
    
    const n = dStars[i][j];
    if (n > 0) {
      const st = tx(gD, hL + j * cw + cw / 2, hT + i * rh + 15, '★'.repeat(n), 14, {'text-anchor': 'middle', fill: '#4a4a4a', 'font-family': '"DejaVu Sans",sans-serif'});
      
      
    }
  });
});
dRows.forEach((n, i) => {
  const lb = tx(gD, 2557, hT + i * rh + rh / 2 + 5, n, 15, {fill: '#222'});
  
  
});
dCols.forEach((n, j) => {
  const x = hL + j * cw + cw / 2 - 5, y = 2609;
  const lb = tx(gD, x, y, n, 16, {fill: '#222', transform: `rotate(90 ${x} ${y})`});
  
  
});
function dendro(nLeaves, merges, leafPos, baseCoord, scale, horizontal, name) {
  const pos = [], hgt = [];
  for (let i = 0; i < nLeaves; i++) { pos.push(leafPos(i)); hgt.push(0); }
  merges.forEach(m => {
    const a = m[0], b = m[1], h = m[2];
    const pa = pos[a], pb = pos[b];
    const hb = baseCoord - h * scale, ha = baseCoord - hgt[a] * scale, hbb = baseCoord - hgt[b] * scale;
    let segs;
    if (horizontal) segs = [[pa, ha, pa, hb], [pb, hbb, pb, hb], [pa, hb, pb, hb]];
    else segs = [[ha, pa, hb, pa], [hbb, pb, hb, pb], [hb, pa, hb, pb]];
    segs.forEach(s => {
      const ln = el('line', gD, {x1: s[0], y1: s[1], x2: s[2], y2: s[3], stroke: '#555', 'stroke-width': 1.6});
      
      
    });
    pos.push((pa + pb) / 2); hgt.push(h);
  });
}
dendro(16, dColMerges, j => hL + j * cw + cw / 2, 1658, 82, true, 'column-dendrogram-branch');
dendro(30, dRowMerges, i => hT + i * rh + rh / 2, 1747, 82, false, 'row-dendrogram-branch');
const defs = el('defs', svg, {});
const lg = el('linearGradient', defs, {id: 'cbar', x1: 0, y1: 0, x2: 0, y2: 1});
[[0, '#e8231e'], [0.25, '#f48a86'], [0.5, '#f4f4f6'], [0.75, '#8fb2d8'], [1, '#1e5faa']].forEach(s => {
  el('stop', lg, {offset: s[0], 'stop-color': s[1]});
});
const cb = el('rect', gD, {x: 3077, y: 1659, width: 16, height: 236, fill: 'url(#cbar)'});


const cbY = v => 1779 - v * 136;
dLegendTicks.forEach(v => {
  const lb = tx(gD, 3099, cbY(v) + 6, String(v), 16, {fill: '#444'});
  
  
});
</script>
</body></html>
